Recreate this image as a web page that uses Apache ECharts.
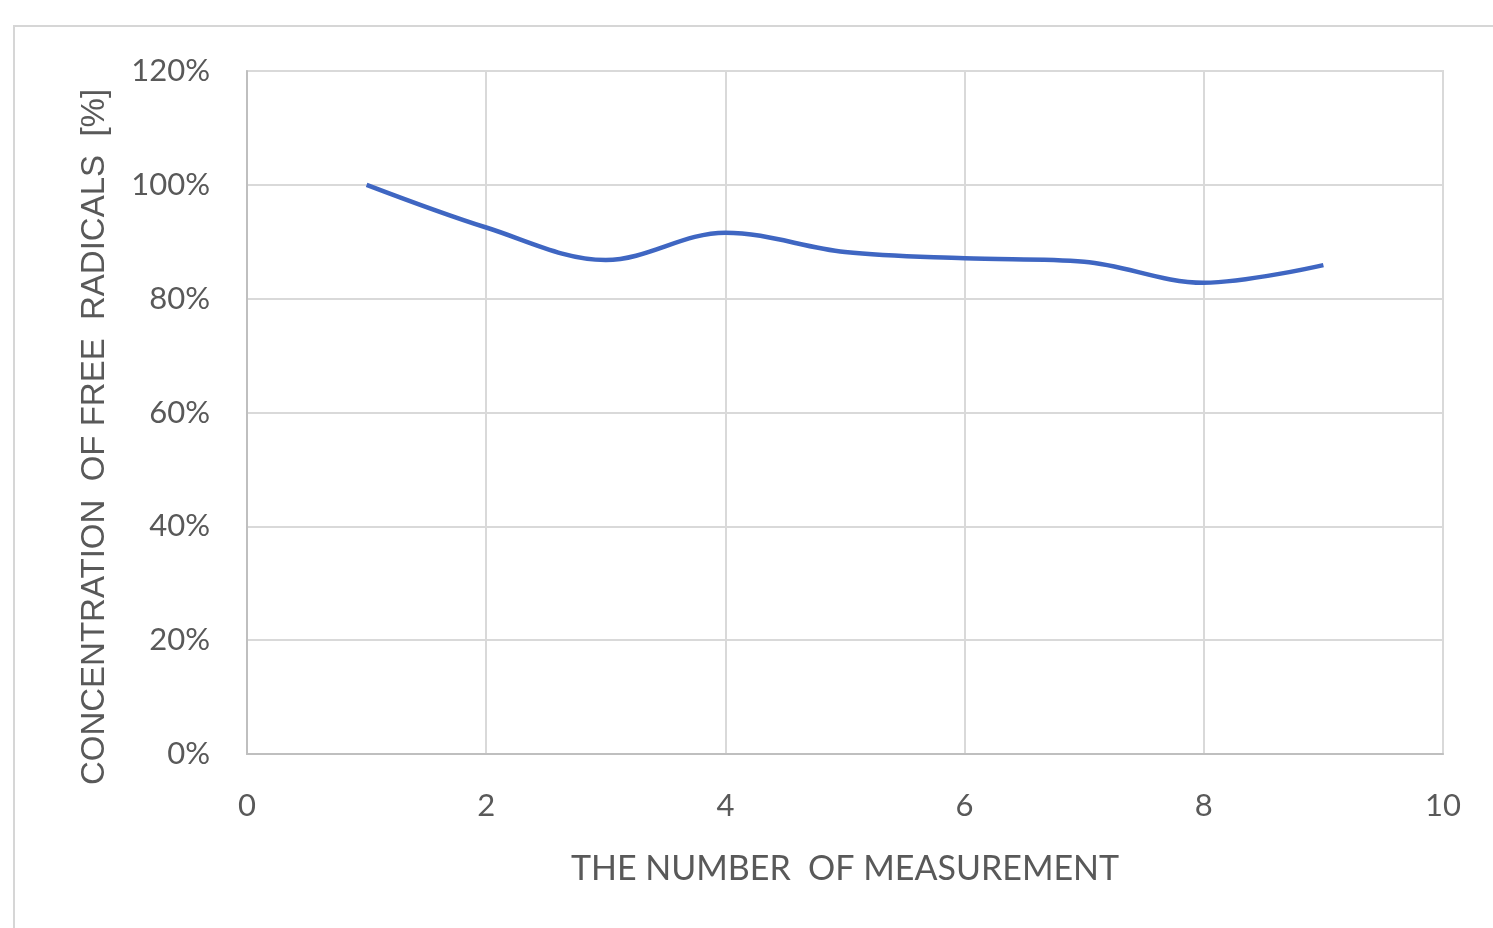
<!DOCTYPE html>
<html>
<head>
<meta charset="utf-8">
<style>
  html, body { margin: 0; padding: 0; background: #ffffff; }
  #chart { width: 1493px; height: 928px; }
</style>
<script src="https://cdn.jsdelivr.net/npm/echarts@6/dist/echarts.min.js"></script>
</head>
<body>
<div id="chart"></div>
<script>
// Measurement index and relative free-radical concentration (%)
const measurement = [1, 2, 3, 4, 5, 6, 7, 8, 9];
const concentration = [100, 92.5, 86.8, 91.6, 88.2, 87.1, 86.5, 82.8, 85.9];

const xTitle = 'THE NUMBER  OF MEASUREMENT';
const yTitle = 'CONCENTRATION  OF FREE  RADICALS  [%]';

const textColor = '#595959';
const gridColor = '#d9d9d9';
const axisColor = '#bfbfbf';
const lineColor = '#3f66c2';

const chart = echarts.init(document.getElementById('chart'), null, { renderer: 'canvas' });

chart.setOption({
  backgroundColor: '#ffffff',
  animation: false,
  graphic: [
    {
      type: 'rect',
      shape: { x: 14, y: 26, width: 1500, height: 920 },
      style: { fill: 'none', stroke: '#d6d6d6', lineWidth: 2 },
      z: 0
    },
    {
      type: 'text',
      x: 95,
      y: 437,
      rotation: Math.PI / 2,
      style: {
        text: yTitle,
        font: '33px "Liberation Sans", Arial, sans-serif',
        fill: textColor,
        align: 'center',
        verticalAlign: 'middle'
      }
    }
  ],
  grid: { left: 247, right: 50, top: 71, bottom: 174, show: true, borderColor: gridColor, borderWidth: 2 },
  xAxis: {
    type: 'value',
    min: 0,
    max: 10,
    interval: 2,
    name: xTitle,
    nameLocation: 'middle',
    nameGap: 98,
    nameTextStyle: { color: textColor, fontFamily: 'Lato', fontSize: 34, verticalAlign: 'top' },
    axisLine: { show: true, lineStyle: { color: axisColor, width: 2 } },
    axisTick: { show: false },
    axisLabel: { color: textColor, fontFamily: 'Lato', fontSize: 31, margin: 36 },
    splitLine: { show: true, lineStyle: { color: gridColor, width: 2 } }
  },
  yAxis: {
    type: 'value',
    min: 0,
    max: 120,
    interval: 20,
    axisLine: { show: true, lineStyle: { color: axisColor, width: 2 } },
    axisTick: { show: false },
    axisLabel: { color: textColor, fontFamily: 'Lato', fontSize: 31, margin: 37, formatter: '{value}%' },
    splitLine: { show: true, lineStyle: { color: gridColor, width: 2 } }
  },
  series: [
    {
      type: 'line',
      data: measurement.map((m, i) => [m, concentration[i]]),
      smooth: 0.35,
      showSymbol: false,
      lineStyle: { color: lineColor, width: 4.5 },
      z: 5
    }
  ]
});
</script>
</body>
</html>
